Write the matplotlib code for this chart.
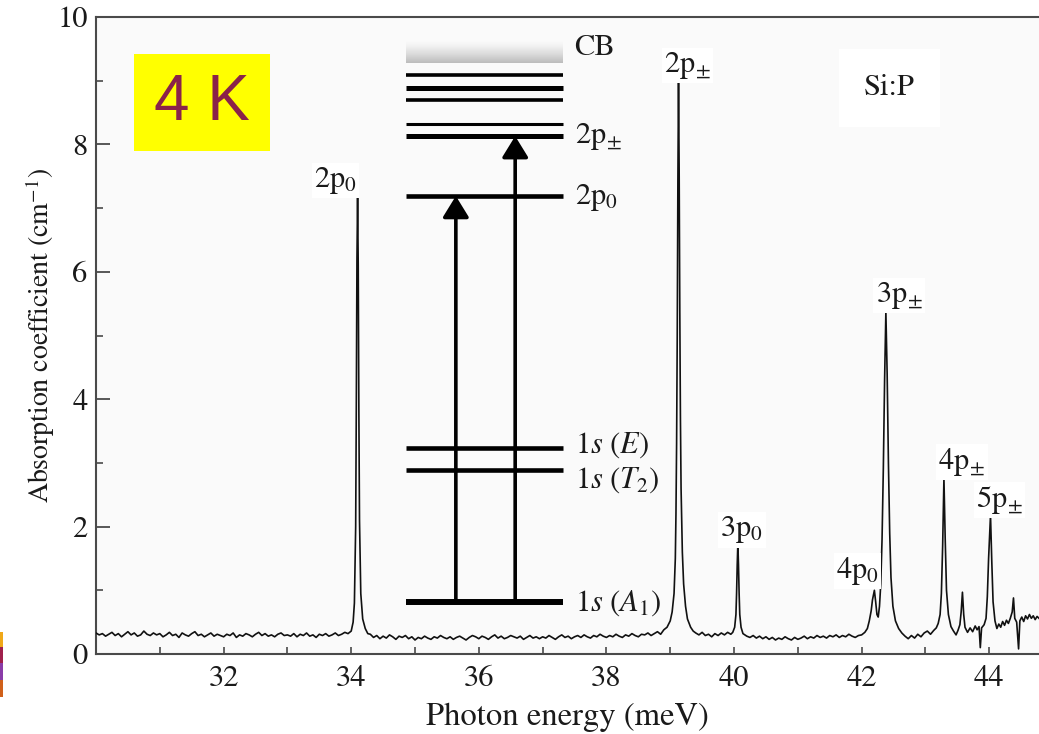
import matplotlib
matplotlib.use("Agg")
import matplotlib.pyplot as plt
import numpy as np
from matplotlib.patches import Rectangle
from matplotlib.ticker import MultipleLocator

# ---------------------------------------------------------------------------
# Si:P far-infrared absorption spectrum at 4 K
# ---------------------------------------------------------------------------
energy = [
    30.00, 30.05, 30.10, 30.15, 30.20, 30.25, 30.30, 30.35, 30.40, 30.45,
    30.50, 30.55, 30.60, 30.65, 30.70, 30.75, 30.80, 30.85, 30.90, 30.95,
    31.00, 31.05, 31.10, 31.15, 31.20, 31.25, 31.30, 31.35, 31.40, 31.45,
    31.50, 31.55, 31.60, 31.65, 31.70, 31.75, 31.80, 31.85, 31.90, 31.95,
    32.00, 32.05, 32.10, 32.15, 32.20, 32.25, 32.30, 32.35, 32.40, 32.45,
    32.50, 32.55, 32.60, 32.65, 32.70, 32.75, 32.80, 32.85, 32.90, 32.95,
    33.00, 33.05, 33.10, 33.15, 33.20, 33.25, 33.30, 33.35, 33.40, 33.45,
    33.50, 33.55, 33.60, 33.65, 33.70, 33.75, 33.80, 33.85, 33.90, 33.95,
    34.00, 34.03, 34.05, 34.07, 34.08, 34.09, 34.10, 34.11, 34.12, 34.13,
    34.15, 34.18, 34.22, 34.26,
    34.30, 34.35, 34.40, 34.45, 34.50, 34.55, 34.60, 34.65, 34.70, 34.75,
    34.80, 34.85, 34.90, 34.95,
    35.00, 35.05, 35.10, 35.15, 35.20, 35.25, 35.30, 35.35, 35.40, 35.45,
    35.50, 35.55, 35.60, 35.65, 35.70, 35.75, 35.80, 35.85, 35.90, 35.95,
    36.00, 36.05, 36.10, 36.15, 36.20, 36.25, 36.30, 36.35, 36.40, 36.45,
    36.50, 36.55, 36.60, 36.65, 36.70, 36.75, 36.80, 36.85, 36.90, 36.95,
    37.00, 37.05, 37.10, 37.15, 37.20, 37.25, 37.30, 37.35, 37.40, 37.45,
    37.50, 37.55, 37.60, 37.65, 37.70, 37.75, 37.80, 37.85, 37.90, 37.95,
    38.00, 38.05, 38.10, 38.15, 38.20, 38.25, 38.30, 38.35, 38.40, 38.45,
    38.50, 38.55, 38.60, 38.65, 38.70, 38.75, 38.80, 38.85,
    38.90, 38.95, 39.00, 39.03, 39.06, 39.08, 39.09, 39.10, 39.11, 39.12,
    39.13, 39.14, 39.15, 39.16, 39.17, 39.19, 39.21, 39.24, 39.27, 39.32,
    39.36,
    39.40, 39.45, 39.50, 39.55, 39.60, 39.65, 39.70, 39.75, 39.80, 39.85,
    39.90, 39.95,
    39.98, 40.01, 40.03, 40.04, 40.05, 40.06, 40.07, 40.08, 40.09, 40.11,
    40.14,
    40.20, 40.25, 40.30, 40.35, 40.40, 40.45, 40.50, 40.55, 40.60, 40.65,
    40.70, 40.75, 40.80, 40.85, 40.90, 40.95,
    41.00, 41.05, 41.10, 41.15, 41.20, 41.25, 41.30, 41.35, 41.40, 41.45,
    41.50, 41.55, 41.60, 41.65, 41.70, 41.75, 41.80, 41.85, 41.90, 41.95,
    42.00, 42.05, 42.09, 42.12, 42.15, 42.17, 42.20, 42.22, 42.24, 42.26,
    42.28, 42.30, 42.32, 42.34, 42.36, 42.38, 42.40, 42.42, 42.44, 42.46,
    42.49, 42.53, 42.58, 42.63,
    42.68, 42.73, 42.78, 42.83, 42.88, 42.93, 42.98, 43.03, 43.08, 43.13,
    43.17, 43.20, 43.23, 43.25, 43.27, 43.29, 43.31, 43.33, 43.36, 43.40,
    43.44, 43.48, 43.51, 43.54, 43.56, 43.58, 43.60, 43.62, 43.66, 43.70,
    43.74, 43.78, 43.81, 43.84, 43.86, 43.88, 43.92, 43.95, 43.97, 43.99,
    44.02, 44.04, 44.06, 44.09, 44.12, 44.15, 44.18, 44.21, 44.24, 44.27,
    44.30, 44.33, 44.36, 44.38, 44.40, 44.43, 44.46, 44.48, 44.51, 44.54,
    44.57, 44.60, 44.63, 44.66, 44.69, 44.72, 44.75, 44.78,
]

absorption = [
    0.33, 0.30, 0.32, 0.28, 0.31, 0.34, 0.29, 0.32, 0.27, 0.31,
    0.35, 0.30, 0.33, 0.28, 0.30, 0.36, 0.31, 0.29, 0.33, 0.30,
    0.32, 0.27, 0.30, 0.34, 0.29, 0.31, 0.26, 0.33, 0.30, 0.28,
    0.32, 0.35, 0.29, 0.31, 0.27, 0.30, 0.33, 0.28, 0.31, 0.29,
    0.27, 0.31, 0.29, 0.33, 0.26, 0.30, 0.28, 0.32, 0.30, 0.27,
    0.31, 0.34, 0.29, 0.32, 0.28, 0.30, 0.27, 0.31, 0.33, 0.29,
    0.30, 0.28, 0.32, 0.27, 0.31, 0.29, 0.33, 0.28, 0.30, 0.26,
    0.31, 0.29, 0.32, 0.28, 0.30, 0.33, 0.29, 0.31, 0.34, 0.32,
    0.36, 0.50, 0.80, 2.00, 3.90, 6.20, 7.17, 6.10, 3.80, 2.10,
    0.95, 0.55, 0.40, 0.32,
    0.31, 0.26, 0.29, 0.24, 0.28, 0.25, 0.30, 0.27, 0.23, 0.28,
    0.26, 0.29, 0.24, 0.27,
    0.22, 0.26, 0.24, 0.28, 0.25, 0.23, 0.27, 0.25, 0.29, 0.26,
    0.24, 0.27, 0.23, 0.26, 0.28, 0.25, 0.22, 0.26, 0.29, 0.27,
    0.24, 0.28, 0.26, 0.23, 0.27, 0.30, 0.25, 0.28, 0.24, 0.26,
    0.29, 0.27, 0.25, 0.28, 0.23, 0.26, 0.29, 0.25, 0.27, 0.24,
    0.27, 0.25, 0.29, 0.26, 0.23, 0.27, 0.30, 0.26, 0.28, 0.24,
    0.27, 0.29, 0.26, 0.30, 0.27, 0.25, 0.29, 0.27, 0.31, 0.28,
    0.26, 0.29, 0.27, 0.31, 0.28, 0.26, 0.30, 0.28, 0.32, 0.29,
    0.27, 0.31, 0.30, 0.33, 0.29, 0.32, 0.35, 0.31,
    0.38, 0.42, 0.52, 0.66, 0.95, 1.50, 2.20, 3.30, 5.00, 7.40,
    8.98, 7.60, 5.40, 3.70, 2.60, 1.60, 1.10, 0.75, 0.55, 0.42,
    0.36,
    0.33, 0.30, 0.34, 0.29, 0.31, 0.27, 0.32, 0.29, 0.33, 0.30,
    0.34, 0.31,
    0.34, 0.42, 0.62, 0.95, 1.40, 1.74, 1.40, 0.95, 0.62, 0.42,
    0.32,
    0.28, 0.26, 0.29, 0.25, 0.28, 0.24, 0.27, 0.23, 0.26, 0.22,
    0.25, 0.23, 0.27, 0.24, 0.22, 0.26,
    0.23, 0.25, 0.28, 0.24, 0.27, 0.25, 0.29, 0.26, 0.28, 0.25,
    0.29, 0.27, 0.30, 0.26, 0.29, 0.27, 0.31, 0.28, 0.26, 0.29,
    0.30, 0.34, 0.40, 0.52, 0.68, 0.85, 1.00, 0.82, 0.62, 0.58,
    0.75, 1.10, 1.80, 2.90, 4.30, 5.37, 4.40, 3.00, 1.90, 1.20,
    0.75, 0.52, 0.40, 0.33,
    0.28, 0.24, 0.29, 0.25, 0.31, 0.27, 0.33, 0.36, 0.31, 0.37,
    0.41, 0.48, 0.62, 0.95, 1.70, 2.76, 1.80, 1.00, 0.62, 0.43,
    0.36, 0.30, 0.37, 0.46, 0.66, 0.97, 0.62, 0.42, 0.34, 0.41,
    0.35, 0.44, 0.38, 0.43, 0.10, 0.41, 0.46, 0.56, 0.90, 1.50,
    2.18, 1.45, 0.82, 0.52, 0.40, 0.47, 0.42, 0.51, 0.45, 0.53,
    0.48, 0.56, 0.66, 0.88, 0.56, 0.50, 0.08, 0.52, 0.58, 0.51,
    0.60, 0.55, 0.62, 0.56, 0.60, 0.54, 0.59, 0.56,
]

# Labelled absorption lines (transition from 1s(A1) to the excited state)
peak_names = [r"$\mathrm{2p}_0$", r"$\mathrm{2p}_{\!\pm}$", r"$\mathrm{3p}_0$",
              r"$\mathrm{4p}_0$", r"$\mathrm{3p}_{\!\pm}$", r"$\mathrm{4p}_{\!\pm}$",
              r"$\mathrm{5p}_{\!\pm}$"]
peak_energy = [34.10, 39.13, 40.06, 42.20, 42.38, 43.29, 44.02]
peak_height = [7.17, 8.98, 1.74, 1.00, 5.37, 2.76, 2.18]

# Schematic donor level diagram (drawn in the axes' own units)
level_y = [0.82, 2.89, 3.23, 7.19, 8.13, 8.32, 8.70, 8.89, 9.09]
level_names = [r"1$s$ ($A_1$)", r"1$s$ ($T_2$)", r"1$s$ ($E$)",
               r"$\mathrm{2p}_0$", r"$\mathrm{2p}_{\!\pm}$", "CB"]
level_label_y = [0.80, 2.73, 3.28, 7.16, 8.12, 9.51]
cb_band = [9.28, 9.61]
transition_x = [35.64, 36.57]
transition_to = [7.19, 8.13]

# ---------------------------------------------------------------------------
plt.rcParams["font.family"] = "STIXGeneral"
plt.rcParams["mathtext.fontset"] = "stix"

FS = 22
TXT = "#1a1a1a"

fig = plt.figure(figsize=(10.39, 7.34), dpi=100)
fig.patch.set_facecolor("white")
ax = fig.add_axes([96 / 1039, 80 / 734, 943 / 1039, 637 / 734])
ax.set_facecolor("#fafafa")

ax.plot(energy, absorption, color="#111111", lw=1.2, zorder=3)

# level diagram
x0, x1 = 34.86, 37.32
grad = np.linspace(0.04, 0.38, 64).reshape(-1, 1)
ax.imshow(grad, extent=[x0, x1, cb_band[0], cb_band[1]], cmap="Greys",
          vmin=0, vmax=1, aspect="auto", origin="upper", zorder=2)
level_lw = [4.3, 3.3, 3.3, 3.3, 3.6, 2.2, 2.6, 3.6, 2.6]
for y, lw in zip(level_y, level_lw):
    ax.plot([x0, x1], [y, y], color="black", lw=lw, solid_capstyle="butt", zorder=4)
for xa, yt in zip(transition_x, transition_to):
    ax.annotate("", xy=(xa, yt), xytext=(xa, level_y[0]),
                arrowprops=dict(arrowstyle="-|>,head_length=0.65,head_width=0.4",
                                lw=2.6, color="black", shrinkA=0, shrinkB=0,
                                mutation_scale=20),
                zorder=5)
for name, y in zip(level_names, level_label_y):
    ax.text(37.50, y, name, ha="left", va="center", fontsize=FS, color=TXT, zorder=6)

# peak labels
offsets = [(-16, 12), (6.5, 12), (3, 9.5), (-12, 14), (9.5, 12), (13, 11.5), (6.5, 11)]
for name, xe, yh, (dx, dy) in zip(peak_names, peak_energy, peak_height, offsets):
    ax.annotate(name, xy=(xe, yh), xytext=(dx, dy), textcoords="offset points",
                ha="center", va="center", fontsize=FS, color=TXT, zorder=6,
                bbox=dict(facecolor="white", edgecolor="none", pad=1.5))

ax.text(42.44, 8.89, "Si:P", ha="center", va="center", fontsize=FS, color=TXT,
        bbox=dict(facecolor="white", edgecolor="none", pad=18))

# axes styling
ax.set_xlim(30, 44.78)
ax.set_ylim(0, 10)
ax.xaxis.set_major_locator(MultipleLocator(2))
ax.xaxis.set_minor_locator(MultipleLocator(1))
ax.yaxis.set_major_locator(MultipleLocator(2))
ax.yaxis.set_minor_locator(MultipleLocator(1))
ax.set_xticks([32, 34, 36, 38, 40, 42, 44])
ax.spines["right"].set_visible(False)
for s in ["left", "bottom", "top"]:
    ax.spines[s].set_color("#4a4a4a")
    ax.spines[s].set_linewidth(1.5)
ax.tick_params(axis="y", which="major", direction="in", length=10, width=1.3,
               pad=6, labelsize=FS, labelcolor=TXT, color="#4a4a4a")
ax.tick_params(axis="y", which="minor", direction="in", length=5, width=1.2,
               color="#4a4a4a")
ax.tick_params(axis="x", which="both", direction="in", length=5, width=1.2,
               pad=8, labelsize=FS, labelcolor=TXT, color="#4a4a4a")
ax.set_xlabel("Photon energy (meV)", fontsize=23.5, color=TXT, labelpad=7)
ax.set_ylabel("Absorption coefficient (cm$^{-1}$)", fontsize=20, color=TXT, labelpad=0)

# temperature badge
fig.add_artist(Rectangle((134 / 1039, 1 - 151 / 734), 136 / 1039, 97 / 734,
                         transform=fig.transFigure, facecolor="#ffff00",
                         edgecolor="none", zorder=5))
fig.text(202 / 1039, 1 - 103 / 734, "4 K", family="Liberation Sans", fontsize=46,
         color="#8a2249", ha="center", va="center", zorder=6)

# slide edge marker
strip = [(632, 647, "#f0a818"), (647, 663, "#a0204c"), (663, 680, "#8a3ca8"),
         (680, 697, "#d0601a")]
for top, bot, c in strip:
    fig.add_artist(Rectangle((0, 1 - bot / 734), 2.5 / 1039, (bot - top) / 734,
                             transform=fig.transFigure, facecolor=c,
                             edgecolor="none", zorder=5))

fig.savefig("out.png", dpi=100)
